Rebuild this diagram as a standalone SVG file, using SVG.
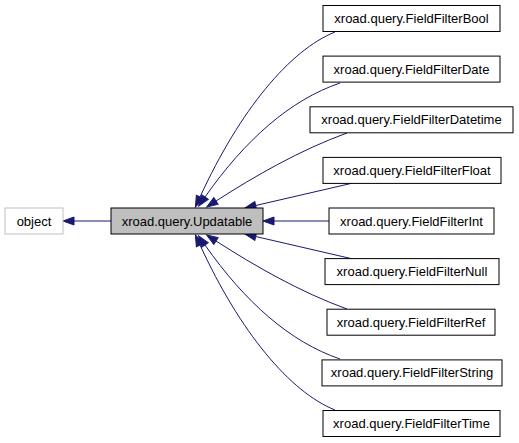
<svg xmlns="http://www.w3.org/2000/svg" width="519" height="443" viewBox="0 0 519 443">
<style>
  .box { fill: #ffffff; stroke: #000000; stroke-width: 1; }
  .ext { fill: #ffffff; stroke: #bfbfbf; stroke-width: 1; }
  .cur { fill: #bfbfbf; stroke: #000000; stroke-width: 1; }
  .lbl { font-family: "Liberation Sans", Arial, sans-serif; font-size: 13px; fill: #000000; text-anchor: middle; }
  .edge { fill: none; stroke: #191970; stroke-width: 1; marker-end: url(#arr); }
</style>
<defs>
  <marker id="arr" markerUnits="userSpaceOnUse" markerWidth="14" markerHeight="10" refX="0" refY="0" viewBox="0 -5 14 10" orient="auto" overflow="visible">
    <path d="M0,-4 L11,0 L0,4 Z" fill="#191970" stroke="#191970" stroke-width="1"/>
  </marker>
</defs>
<g id="connectors">
  <path class="edge" d="M111,221 L74,221"/>
  <path class="edge" d="M335,32 C290,50 240,110 200,197"/>
  <path class="edge" d="M340,83 C290,100 245,140 205,197"/>
  <path class="edge" d="M347,133 C300,150 255,176 216,201"/>
  <path class="edge" d="M353,183 L255.7,205.5"/>
  <path class="edge" d="M329,221 L274,221"/>
  <path class="edge" d="M353,259 L255.7,236.5"/>
  <path class="edge" d="M347,309 C300,292 255,266 216,241"/>
  <path class="edge" d="M340,359 C290,342 245,302 205,245"/>
  <path class="edge" d="M335,410 C290,392 240,332 200,245"/>
</g>
<g id="node-object">
  <rect class="ext" x="5" y="208" width="58" height="26"/>
  <text class="lbl" x="34" y="225.5">object</text>
</g>
<g id="node-updatable">
  <rect class="cur" x="111" y="208" width="152" height="26"/>
  <text class="lbl" x="187" y="225.5">xroad.query.Updatable</text>
</g>
<g id="node-bool">
  <rect class="box" x="323" y="5.5" width="177" height="26"/>
  <text class="lbl" x="411.5" y="23">xroad.query.FieldFilterBool</text>
</g>
<g id="node-date">
  <rect class="box" x="323" y="56.1" width="177" height="26"/>
  <text class="lbl" x="411.5" y="73.6">xroad.query.FieldFilterDate</text>
</g>
<g id="node-datetime">
  <rect class="box" x="310" y="106.8" width="203" height="26"/>
  <text class="lbl" x="411.5" y="124.3">xroad.query.FieldFilterDatetime</text>
</g>
<g id="node-float">
  <rect class="box" x="323" y="157.4" width="178" height="26"/>
  <text class="lbl" x="412" y="174.9">xroad.query.FieldFilterFloat</text>
</g>
<g id="node-int">
  <rect class="box" x="329" y="208" width="165" height="26"/>
  <text class="lbl" x="411.5" y="225.5">xroad.query.FieldFilterInt</text>
</g>
<g id="node-null">
  <rect class="box" x="325" y="258.6" width="174" height="26"/>
  <text class="lbl" x="412" y="276.1">xroad.query.FieldFilterNull</text>
</g>
<g id="node-ref">
  <rect class="box" x="327" y="309.2" width="168" height="26"/>
  <text class="lbl" x="411" y="326.7">xroad.query.FieldFilterRef</text>
</g>
<g id="node-string">
  <rect class="box" x="322" y="359.9" width="180" height="26"/>
  <text class="lbl" x="412" y="377.4">xroad.query.FieldFilterString</text>
</g>
<g id="node-time">
  <rect class="box" x="323" y="410.5" width="177" height="26"/>
  <text class="lbl" x="411.5" y="428">xroad.query.FieldFilterTime</text>
</g>
</svg>
